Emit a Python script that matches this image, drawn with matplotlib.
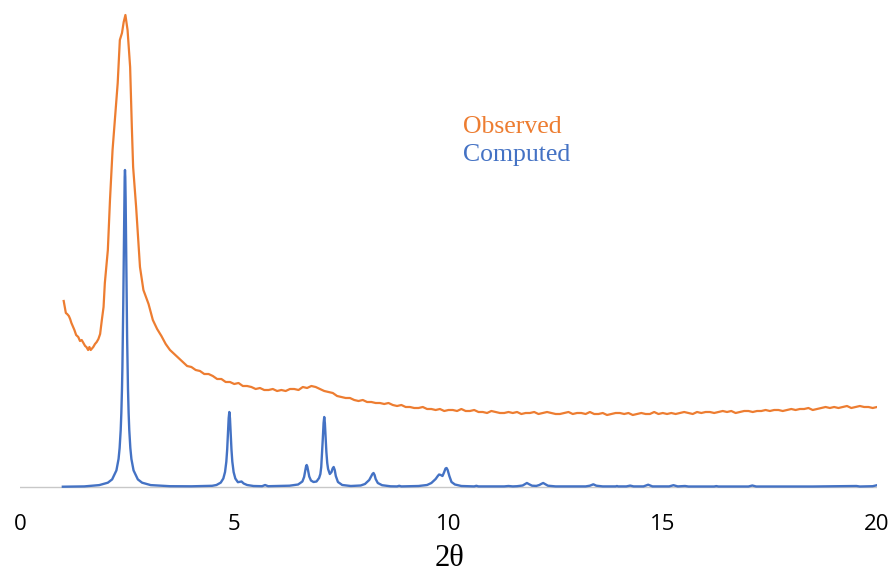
import numpy as np
import matplotlib
matplotlib.use("Agg")
from matplotlib import pyplot

# observed pattern, steep part read point by point
obs_head_t = [1.02, 1.05, 1.07, 1.1, 1.14, 1.17, 1.2, 1.24, 1.27, 1.31, 1.36, 1.4, 1.44, 1.48,
              1.52, 1.55, 1.59, 1.62, 1.65, 1.67, 1.71, 1.75, 1.79, 1.83, 1.87, 1.91, 1.95, 1.98,
              2.05, 2.1, 2.16, 2.22, 2.28, 2.33, 2.38, 2.42, 2.46, 2.51, 2.57, 2.61, 2.64, 2.71,
              2.75, 2.8, 2.88, 2.95]
obs_head_i = [186, 179, 174, 173, 171, 168, 164, 160, 157, 152, 150, 146, 147, 144,
              141, 140, 137, 140, 137, 138, 140, 143, 145, 148, 153, 167, 180, 204,
              237, 287, 337, 370, 404, 447, 454, 465, 472, 457, 420, 360, 320, 280,
              254, 220, 197, 189]

# observed pattern, tail sampled every 0.1 from 3.0 to 20.0
obs_tail_i = [183, 167, 158, 151, 143, 137, 133, 129, 125, 121,
              120, 117, 116, 113, 113, 111, 108, 108, 105, 105,
              103, 104, 101, 101, 100, 98, 99, 97, 97, 98,
              96, 97, 96, 98, 98, 97, 100, 99, 101, 100,
              98, 96, 95, 94, 91, 90, 89, 89, 87, 86,
              87, 85, 85, 84, 84, 83, 84, 82, 81, 82,
              80, 80, 79, 79, 80, 78, 78, 77, 78, 76,
              77, 77, 76, 78, 76, 76, 77, 75, 75, 74,
              76, 75, 74, 74, 75, 74, 75, 73, 74, 74,
              75, 73, 74, 75, 74, 73, 73, 74, 75, 73,
              74, 74, 73, 75, 73, 73, 74, 72, 73, 74,
              74, 73, 74, 72, 73, 74, 73, 73, 75, 73,
              74, 73, 74, 73, 74, 75, 74, 73, 75, 74,
              75, 75, 74, 75, 76, 75, 76, 74, 75, 76,
              76, 75, 76, 76, 77, 76, 77, 77, 76, 77,
              78, 77, 78, 78, 79, 77, 78, 79, 80, 79,
              80, 79, 80, 81, 79, 80, 81, 80, 80, 79,
              80]
obs_tail_t = np.round(np.arange(3.0, 20.001, 0.1), 2)

# computed pattern
calc_t = [1.0, 1.5, 1.85, 2.05, 2.15, 2.25, 2.3, 2.325, 2.35, 2.365, 2.38, 2.39, 2.4, 2.41,
          2.42, 2.428, 2.435, 2.443, 2.45, 2.457, 2.465, 2.472, 2.48, 2.49, 2.5, 2.51, 2.52,
          2.535, 2.55, 2.575, 2.6, 2.65, 2.75, 2.85, 3.05, 3.5, 4.0,
          4.485, 4.585, 4.685, 4.745, 4.785, 4.815, 4.835, 4.85, 4.87, 4.885, 4.9, 4.92,
          4.935, 4.955, 4.985, 5.025, 5.085, 5.13, 5.17, 5.22, 5.3, 5.45, 5.65, 5.72, 5.79,
          6.0, 6.29, 6.49, 6.59, 6.63, 6.655, 6.675, 6.69, 6.705, 6.725, 6.75, 6.79, 6.85,
          6.92, 6.98, 7.01, 7.03, 7.05, 7.065, 7.085, 7.1, 7.115, 7.135, 7.15, 7.17, 7.19,
          7.23, 7.27, 7.295, 7.32, 7.345, 7.37, 7.42, 7.52, 7.72, 7.95, 8.05, 8.15, 8.2,
          8.225, 8.25, 8.275, 8.3, 8.35, 8.45, 8.65, 8.8, 8.85, 8.9, 9.3, 9.5, 9.6, 9.7,
          9.75, 9.78, 9.82, 9.86, 9.9, 9.93, 9.955, 9.98, 10.02, 10.07, 10.15, 10.3, 10.6,
          10.65, 10.7, 11.3, 11.4, 11.5, 11.6, 11.73, 11.78, 11.83, 11.88, 11.95, 12.05,
          12.12, 12.17, 12.21, 12.25, 12.32, 12.5, 13.2, 13.3, 13.38, 13.45, 13.6, 13.9,
          13.93, 13.96, 14.15, 14.24, 14.32, 14.55, 14.66, 14.76, 15.15, 15.25, 15.35,
          15.52, 15.6, 16.2, 16.25, 16.3, 17.0, 17.09, 17.18, 18.5, 19.52, 19.6, 19.9, 20.0]
calc_i = [0.3, 0.6, 1.9, 4.3, 7.6, 16.6, 28, 39, 57, 74, 98, 120, 149, 184,
          225, 260, 288, 310, 317, 310, 288, 260, 225, 184, 149, 120, 98,
          74, 57, 39, 28, 16.6, 7.6, 4.3, 1.9, 0.8, 0.7,
          1.2, 2.0, 4.4, 8.5, 15, 25.3, 37.5, 50.3, 68.8, 75, 68.8, 50.3,
          37.5, 25.3, 15, 8.5, 4.8, 5.2, 5.5, 3.5, 2.0, 1.0, 0.8, 2.0, 0.8,
          1.0, 1.3, 2.5, 5.5, 10, 16, 20.5, 22, 20.5, 16, 10.5, 6.5, 5,
          5.5, 9, 13, 20, 35, 47, 64, 70, 64, 47, 35, 24, 18,
          13, 15, 18.5, 20, 17, 11, 5, 2, 1, 1.5, 3.0, 7, 11,
          13, 14, 12, 8, 4, 1.8, 0.7, 0.6, 1.2, 0.6, 1.0, 2, 4, 8,
          11, 12.5, 12, 11, 15, 18.5, 19, 17, 11, 5, 2.5, 1, 0.6,
          1.2, 0.6, 0.6, 1.0, 0.6, 0.8, 1.5, 2.8, 4, 2.8, 1.3, 1.1,
          2, 3.2, 4, 3, 1.3, 0.6, 0.6, 1.3, 2.7, 1.3, 0.6, 0.6,
          1.0, 0.6, 0.6, 1.4, 0.6, 0.6, 2.3, 0.6, 0.6, 1.8, 0.6,
          1.0, 0.5, 0.5, 0.9, 0.5, 0.5, 1.5, 0.5, 0.5, 1.0, 0.5, 0.8, 1.8]

x_ticks = [0, 5, 10, 15, 20]

orange = '#ED7D31'
blue = '#4472C4'

fig = pyplot.figure(figsize=(8.95, 5.74), dpi=100)
ax = fig.add_axes([20 / 895, 77 / 574, 857 / 895, 497 / 574])

ax.axhline(0, color='#c8c8c8', lw=1.0, zorder=1)
ax.plot(list(obs_head_t) + list(obs_tail_t), obs_head_i + obs_tail_i,
        color=orange, lw=1.6, zorder=2)
ax.plot(calc_t, calc_i, color=blue, lw=1.7, zorder=3)

ax.set_xlim(0, 20)
ax.set_ylim(-10, 487)
for s in ax.spines.values():
    s.set_visible(False)
ax.set_yticks([])
ax.set_xticks(x_ticks)
ax.set_xticklabels([str(v) for v in x_ticks], fontsize=16, family='Open Sans')
ax.tick_params(axis='x', length=0, pad=12)

# axis title near the bottom edge
fig.text(450 / 895, 1 - 559 / 574, '2θ', fontsize=22, family='Liberation Serif',
         ha='center', va='center')

ax.text(0.517, 0.7445, 'Observed', color=orange, fontsize=18.5, family='Liberation Serif',
        va='center', ha='left', transform=ax.transAxes)
ax.text(0.517, 0.688, 'Computed', color=blue, fontsize=18.5, family='Liberation Serif',
        va='center', ha='left', transform=ax.transAxes)

fig.savefig('out.png', dpi=100)
